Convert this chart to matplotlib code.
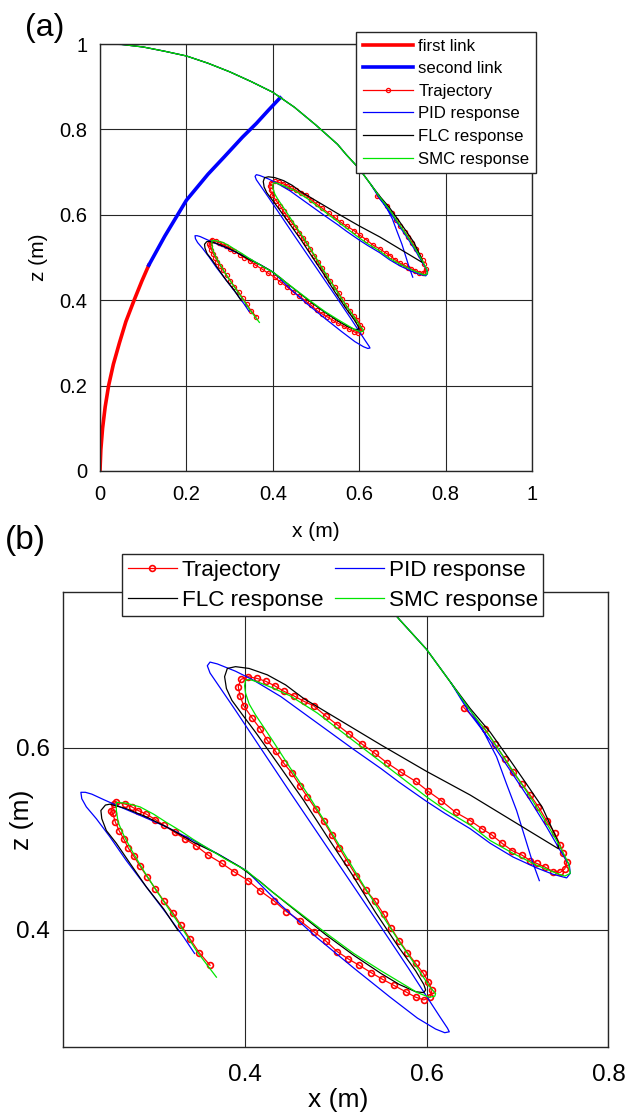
import numpy as np
import matplotlib
matplotlib.use("Agg")
import matplotlib.pyplot as plt

plt.rcParams['font.family'] = ['Liberation Sans', 'DejaVu Sans']

nan = np.nan

# robot links (panel a)
link1_x = [0.0, 0.002, 0.006, 0.012, 0.020, 0.031, 0.045, 0.060, 0.079, 0.097, 0.113]
link1_z = [0.0, 0.050, 0.100, 0.150, 0.200, 0.250, 0.300, 0.350, 0.400, 0.445, 0.482]
link2_x = [0.113, 0.150, 0.200, 0.250, 0.288, 0.330, 0.362, 0.390, 0.417]
link2_z = [0.482, 0.550, 0.634, 0.695, 0.736, 0.782, 0.814, 0.845, 0.874]

# desired trajectory
traj_x = [0.641, 0.664, 0.675, 0.686, 0.695, 0.705, 0.714, 0.723, 0.732, 0.741, 0.747, 0.750,
          0.754, 0.752, 0.747, 0.739, 0.730, 0.721, 0.714, 0.705, 0.694, 0.683, 0.672, 0.661,
          0.648, 0.632, 0.616, 0.602, 0.588, 0.572, 0.557, 0.543, 0.529, 0.515, 0.502, 0.489,
          0.476, 0.465, 0.454, 0.443, 0.433, 0.423, 0.414, 0.404, 0.396, 0.393, 0.395, 0.399,
          0.408, 0.417, 0.425, 0.434, 0.443, 0.452, 0.461, 0.469, 0.478, 0.487, 0.496, 0.504,
          0.513, 0.523, 0.533, 0.543, 0.553, 0.561, 0.570, 0.579, 0.588, 0.596, 0.602, 0.606,
          0.604, 0.597, 0.588, 0.577, 0.564, 0.551, 0.539, 0.526, 0.514, 0.502, 0.489, 0.476,
          0.461, 0.446, 0.432, 0.417, 0.404, 0.388, 0.375, 0.360, 0.347, 0.334, 0.323, 0.311,
          0.302, 0.292, 0.283, 0.276, 0.269, 0.259, 0.256, 0.253, 0.255, 0.258, 0.262, 0.267,
          0.272, 0.278, 0.285, 0.293, 0.302, 0.311, 0.321, 0.330, 0.340, 0.350, 0.362]
traj_z = [0.644, 0.621, 0.604, 0.588, 0.573, 0.560, 0.548, 0.535, 0.520, 0.506, 0.493, 0.484,
          0.474, 0.467, 0.463, 0.464, 0.469, 0.473, 0.476, 0.482, 0.487, 0.495, 0.504, 0.511,
          0.520, 0.529, 0.542, 0.552, 0.563, 0.573, 0.583, 0.594, 0.604, 0.615, 0.625, 0.635,
          0.646, 0.651, 0.657, 0.662, 0.668, 0.673, 0.676, 0.678, 0.675, 0.667, 0.657, 0.646,
          0.633, 0.621, 0.608, 0.596, 0.583, 0.572, 0.558, 0.546, 0.533, 0.519, 0.504, 0.490,
          0.475, 0.459, 0.444, 0.432, 0.417, 0.402, 0.388, 0.375, 0.363, 0.353, 0.343, 0.334,
          0.326, 0.323, 0.326, 0.332, 0.339, 0.346, 0.353, 0.361, 0.368, 0.376, 0.388, 0.398,
          0.410, 0.420, 0.432, 0.443, 0.454, 0.464, 0.473, 0.482, 0.492, 0.500, 0.507, 0.515,
          0.521, 0.527, 0.531, 0.535, 0.538, 0.540, 0.538, 0.531, 0.528, 0.518, 0.509, 0.500,
          0.490, 0.481, 0.470, 0.458, 0.445, 0.432, 0.419, 0.405, 0.390, 0.375, 0.361]

# shared start arc from (0, 1)
arc_x = [0.0, 0.05, 0.10, 0.15, 0.20, 0.25, 0.30, 0.35, 0.40, 0.45, 0.50, 0.55, 0.57, 0.60, 0.627]
arc_z = [1.0, 0.999, 0.993, 0.983, 0.972, 0.955, 0.935, 0.912, 0.887, 0.852, 0.810, 0.765, 0.741, 0.708, 0.671]

# PID response (after the arc); nan splits off the short inner branch
pid_x = [0.648, 0.670, 0.692, 0.714, 0.732, 0.747, 0.757, 0.758, 0.754, 0.739, 0.721, 0.695,
         0.670, 0.648, 0.620, 0.600, 0.570, 0.550, 0.520, 0.480, 0.440, 0.410, 0.390, 0.370,
         0.362, 0.359, 0.362, 0.375, 0.390, 0.410, 0.450, 0.500, 0.550, 0.580, 0.600, 0.615,
         0.623, 0.625, 0.620, 0.610, 0.590, 0.560, 0.520, 0.480, 0.440, 0.402, 0.373, 0.344,
         0.314, 0.289, 0.263, 0.245, 0.232, 0.225, 0.220, 0.221, 0.226, 0.237, 0.252, 0.270,
         0.292, 0.314, 0.333, 0.345,
         nan, 0.627, 0.648, 0.662, 0.677, 0.688, 0.699, 0.708, 0.716, 0.724]
pid_z = [0.637, 0.608, 0.575, 0.542, 0.513, 0.487, 0.471, 0.462, 0.457, 0.461, 0.468, 0.480,
         0.495, 0.511, 0.528, 0.541, 0.562, 0.577, 0.598, 0.627, 0.656, 0.674, 0.684, 0.692,
         0.694, 0.690, 0.682, 0.663, 0.641, 0.611, 0.551, 0.477, 0.403, 0.358, 0.327, 0.304,
         0.292, 0.288, 0.287, 0.291, 0.303, 0.326, 0.358, 0.391, 0.427, 0.465, 0.482, 0.498,
         0.513, 0.524, 0.535, 0.543, 0.549, 0.551, 0.551, 0.544, 0.535, 0.522, 0.502, 0.476,
         0.447, 0.418, 0.392, 0.374,
         nan, 0.671, 0.641, 0.619, 0.590, 0.560, 0.531, 0.502, 0.476, 0.454]

# FLC response (after the arc)
flc_x = [0.648, 0.670, 0.692, 0.710, 0.727, 0.739, 0.745, 0.745, 0.648, 0.600, 0.550, 0.500,
         0.465, 0.445, 0.425, 0.405, 0.390, 0.381, 0.378, 0.380, 0.386, 0.397, 0.412, 0.439,
         0.465, 0.491, 0.518, 0.544, 0.570, 0.588, 0.597, 0.599, 0.597, 0.588, 0.570, 0.550,
         0.520, 0.490, 0.460, 0.430, 0.417, 0.395, 0.369, 0.344, 0.318, 0.292, 0.270, 0.252,
         0.247, 0.242, 0.243, 0.248, 0.259, 0.274, 0.292, 0.311, 0.327]
flc_z = [0.643, 0.617, 0.586, 0.560, 0.535, 0.509, 0.496, 0.489, 0.548, 0.574, 0.603, 0.633,
         0.654, 0.669, 0.680, 0.687, 0.689, 0.687, 0.678, 0.665, 0.652, 0.637, 0.617, 0.579,
         0.542, 0.502, 0.461, 0.419, 0.380, 0.355, 0.340, 0.334, 0.331, 0.332, 0.340, 0.352,
         0.372, 0.394, 0.418, 0.442, 0.453, 0.469, 0.484, 0.496, 0.511, 0.524, 0.533, 0.538,
         0.537, 0.531, 0.522, 0.509, 0.495, 0.473, 0.447, 0.423, 0.399]

# SMC response (after the arc)
smc_x = [0.648, 0.670, 0.692, 0.714, 0.732, 0.747, 0.756, 0.758, 0.752, 0.743, 0.721, 0.695,
         0.670, 0.648, 0.620, 0.600, 0.570, 0.540, 0.510, 0.480, 0.450, 0.430, 0.415, 0.405,
         0.401, 0.400, 0.401, 0.405, 0.412, 0.430, 0.450, 0.470, 0.490, 0.510, 0.530, 0.550,
         0.570, 0.590, 0.603, 0.610, 0.609, 0.603, 0.590, 0.570, 0.550, 0.520, 0.490, 0.460,
         0.430, 0.402, 0.380, 0.362, 0.344, 0.329, 0.314, 0.300, 0.285, 0.270, 0.259, 0.259,
         0.261, 0.267, 0.276, 0.289, 0.303, 0.318, 0.333, 0.347, 0.369]
smc_z = [0.641, 0.612, 0.579, 0.546, 0.517, 0.491, 0.473, 0.462, 0.459, 0.462, 0.471, 0.484,
         0.498, 0.515, 0.532, 0.546, 0.569, 0.592, 0.615, 0.638, 0.657, 0.666, 0.672, 0.675,
         0.674, 0.668, 0.660, 0.648, 0.636, 0.609, 0.578, 0.548, 0.516, 0.483, 0.450, 0.418,
         0.387, 0.358, 0.338, 0.330, 0.327, 0.326, 0.331, 0.343, 0.355, 0.374, 0.396, 0.419,
         0.442, 0.465, 0.477, 0.488, 0.499, 0.509, 0.518, 0.527, 0.535, 0.539, 0.540, 0.531,
         0.518, 0.504, 0.487, 0.465, 0.443, 0.421, 0.399, 0.377, 0.348]

RED, BLUE, GREEN = '#ff0000', '#0000ff', '#00e600'
SPINE = '#262626'

fig = plt.figure(figsize=(6.28, 11.14), dpi=100)
ax1 = fig.add_axes([0.1592, 0.5772, 0.6879, 0.3833])
ax2 = fig.add_axes([0.0998, 0.0599, 0.8691, 0.4087])


def draw_responses(ax, ms, mew):
    t, = ax.plot(traj_x, traj_z, '-o', color=RED, lw=0.9, ms=ms, mfc='none', mew=mew,
                 label='Trajectory')
    p, = ax.plot(arc_x + pid_x, arc_z + pid_z, color=BLUE, lw=0.9, label='PID response')
    f, = ax.plot(arc_x + flc_x, arc_z + flc_z, color='black', lw=0.9, label='FLC response')
    s, = ax.plot(arc_x + smc_x, arc_z + smc_z, color=GREEN, lw=0.9, label='SMC response')
    return t, p, f, s


def style(ax, tick_size, pad_x, pad_y):
    ax.grid(True, color=SPINE, lw=0.8)
    ax.set_axisbelow(True)
    for sp in ax.spines.values():
        sp.set_color(SPINE)
        sp.set_linewidth(1.0)
    ax.tick_params(axis='x', length=0, labelsize=tick_size, pad=pad_x, colors='black')
    ax.tick_params(axis='y', length=0, labelsize=tick_size, pad=pad_y, colors='black')


# ---- panel (a)
l1, = ax1.plot(link1_x, link1_z, color=RED, lw=2.6, label='first link')
l2, = ax1.plot(link2_x, link2_z, color=BLUE, lw=2.6, label='second link')
t, p, f, s = draw_responses(ax1, 3.0, 0.9)
ax1.set_xlim(0, 1)
ax1.set_ylim(0, 1)
ax1.set_xticks([0, 0.2, 0.4, 0.6, 0.8, 1])
ax1.set_yticks([0, 0.2, 0.4, 0.6, 0.8, 1])
ax1.set_xticklabels(['0', '0.2', '0.4', '0.6', '0.8', '1'])
ax1.set_yticklabels(['0', '0.2', '0.4', '0.6', '0.8', '1'])
style(ax1, 14.5, 10, 9)
ax1.set_xlabel('x (m)', fontsize=15)
ax1.set_ylabel('z (m)', fontsize=15)
ax1.xaxis.set_label_coords(0.5, -0.12)
ax1.yaxis.set_label_coords(-0.12, 0.5)
leg1 = ax1.legend([l1, l2, t, p, f, s],
                  ['first link', 'second link', 'Trajectory', 'PID response',
                   'FLC response', 'SMC response'],
                  loc='upper left', bbox_to_anchor=(0.5669, 0.9713),
                  bbox_transform=fig.transFigure, fontsize=12.1, fancybox=False,
                  framealpha=1, edgecolor=SPINE, borderaxespad=0, borderpad=0.4,
                  labelspacing=0.45, handlelength=3.0, handletextpad=0.3)
leg1.get_frame().set_linewidth(1.0)
fig.text(45 / 628, 1 - 28 / 1114, '(a)', fontsize=23, ha='center', va='center')

# ---- panel (b)
t, p, f, s = draw_responses(ax2, 4.2, 1.2)
ax2.set_xlim(0.2, 0.8)
ax2.set_ylim(0.271, 0.771)
ax2.set_xticks([0.4, 0.6, 0.8])
ax2.set_yticks([0.4, 0.6])
ax2.set_xticklabels(['0.4', '0.6', '0.8'])
ax2.set_yticklabels(['0.4', '0.6'])
style(ax2, 17.5, 12, 9)
ax2.set_xlabel('x (m)', fontsize=19)
ax2.set_ylabel('z (m)', fontsize=19)
ax2.xaxis.set_label_coords(0.504, -0.09)
ax2.yaxis.set_label_coords(-0.053, 0.5)
leg2 = ax2.legend([t, f, p, s],
                  ['Trajectory', 'FLC response', 'PID response', 'SMC response'],
                  ncol=2, loc='upper left', bbox_to_anchor=(0.1943, 0.5027),
                  bbox_transform=fig.transFigure, fontsize=16.2, fancybox=False,
                  framealpha=1, edgecolor=SPINE, borderaxespad=0, borderpad=0.25,
                  labelspacing=0.4, handlelength=2.2, handletextpad=0.2,
                  columnspacing=0.5)
leg2.get_frame().set_linewidth(1.0)
fig.text(25 / 628, 1 - 541 / 1114, '(b)', fontsize=24, ha='center', va='center')

fig.savefig('out.png', dpi=100)
